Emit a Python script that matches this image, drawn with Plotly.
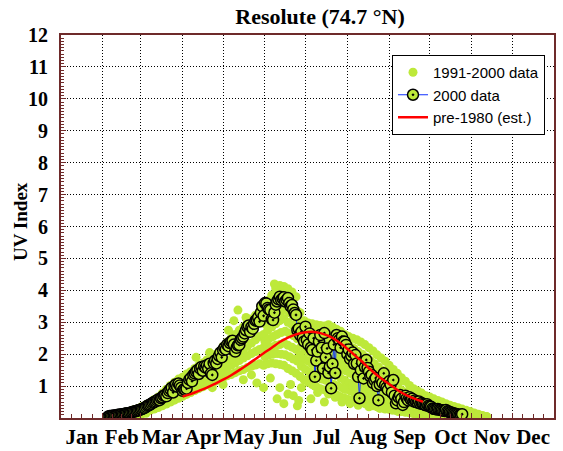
import plotly.graph_objects as go

# ---------------- data ----------------
months = ["Jan", "Feb", "Mar", "Apr", "May", "Jun", "Jul", "Aug", "Sep", "Oct", "Nov", "Dec"]
month_starts = [0, 31, 59, 90, 120, 151, 181, 212, 243, 273, 304, 334, 365]
y_ticks = [1, 2, 3, 4, 5, 6, 7, 8, 9, 10, 11, 12]

# 1991-2000 data (cloud), sampled every 3 days at several levels
g_days = [36, 39, 42, 45, 48, 51, 54, 57, 60, 63,
          66, 69, 72, 75, 78, 81, 84, 87, 90, 93,
          96, 99, 102, 105, 108, 111, 114, 117, 120, 123,
          126, 129, 132, 135, 138, 141, 144, 147, 150, 153,
          156, 159, 162, 165, 168, 171, 174, 177, 180, 183,
          186, 189, 192, 195, 198, 201, 204, 207, 210, 213,
          216, 219, 222, 225, 228, 231, 234, 237, 240, 243,
          246, 249, 252, 255, 258, 261, 264, 267, 270, 273,
          276, 279, 282, 285, 288, 291, 294, 297, 300, 303,
          306, 309, 312, 315]
g_hi = [.09, .10, .14, .15, .19, .21, .26, .30, .36, .42,
        .48, .58, .66, .78, .90, 1.02, 1.12, 1.22, 1.28, 1.38,
        1.45, 1.55, 1.65, 1.72, 1.82, 1.90, 1.98, 2.08, 2.25, 2.38,
        2.50, 2.62, 2.75, 2.85, 3.00, 3.10, 3.22, 3.35, 3.50, 3.68,
        3.85, 4.05, 4.15, 4.12, 4.05, 3.95, 3.80, 3.30, 3.05, 2.98,
        2.95, 2.92, 2.90, 2.88, 2.92, 2.85, 2.78, 2.72, 2.62, 2.55,
        2.50, 2.45, 2.38, 2.30, 2.20, 2.10, 1.98, 1.88, 1.78, 1.65,
        1.52, 1.40, 1.26, 1.15, 1.02, .92, .85, .78, .70, .66,
        .60, .55, .50, .45, .40, .36, .32, .28, .24, .20,
        .16, .12, .08, .05]
g_up = [.07, .08, .11, .12, .15, .17, .21, .24, .29, .34,
        .40, .47, .55, .64, .74, .84, .92, 1.00, 1.05, 1.18,
        1.32, 1.42, 1.52, 1.60, 1.68, 1.76, 1.84, 1.95, 2.08, 2.20,
        2.30, 2.42, 2.52, 2.64, 2.75, 2.85, 2.98, 3.10, 3.22, 3.38,
        3.50, 3.60, 3.68, 3.70, 3.62, 3.52, 3.35, 2.95, 2.80, 2.70,
        2.62, 2.55, 2.50, 2.45, 2.40, 2.42, 2.35, 2.28, 2.20, 2.10,
        2.00, 1.92, 1.82, 1.72, 1.62, 1.52, 1.42, 1.32, 1.22, 1.12,
        1.02, .95, .88, .80, .72, .65, .60, .55, .48, .44,
        .40, .36, .32, .28, .25, .22, .19, .17, .15, .13,
        .10, .08, .06, .04]
g_mid = [.05, .06, .08, .09, .11, .13, .16, .19, .23, .27,
         .32, .37, .44, .51, .58, .66, .74, .82, .88, .96,
         1.05, 1.14, 1.22, 1.30, 1.36, 1.44, 1.50, 1.58, 1.68, 1.76,
         1.85, 1.95, 2.05, 2.15, 2.25, 2.35, 2.45, 2.55, 2.62, 2.75,
         2.85, 2.95, 3.05, 3.12, 3.00, 2.92, 2.80, 2.55, 2.42, 2.30,
         2.25, 2.18, 2.10, 2.05, 1.98, 1.92, 1.88, 1.82, 1.75, 1.65,
         1.58, 1.50, 1.42, 1.35, 1.26, 1.18, 1.10, 1.02, .95, .88,
         .80, .73, .66, .60, .54, .48, .43, .38, .34, .30,
         .27, .24, .21, .19, .17, .15, .13, .12, .10, .09,
         .08, .06, .05, .03]
g_low = [.04, .05, .06, .07, .08, .10, .12, .14, .17, .20,
         .30, .34, .40, .46, .53, .60, .68, .74, .80, .88,
         .95, 1.02, 1.10, 1.16, 1.22, 1.30, 1.36, 1.42, 1.50, 1.58,
         1.65, 1.72, 1.80, 1.88, 1.95, 2.02, 2.08, 2.15, 2.20, 2.25,
         2.22, 2.28, 2.30, 2.35, 2.28, 2.22, 2.15, 1.98, 1.85, 1.78,
         1.70, 1.62, 1.55, 1.48, 1.42, 1.38, 1.32, 1.25, 1.18, 1.10,
         1.05, .98, .92, .86, .80, .74, .68, .62, .56, .50,
         .45, .42, .38, .34, .30, .27, .24, .21, .19, .17,
         .15, .14, .12, .11, .10, .09, .08, .07, .06, .05,
         .05, .04, .03, .02]
g_min = [.03, .04, .05, .05, .06, .07, .09, .11, .13, .15,
         .24, .28, .33, .38, .44, .50, .56, .62, .68, .74,
         .80, .86, .92, .98, 1.04, 1.10, 1.15, 1.20, 1.26, 1.32,
         1.36, 1.42, 1.48, 1.52, 1.58, 1.62, 1.66, 1.70, 1.65, 1.70,
         1.72, 1.70, 1.68, 1.65, 1.55, 1.48, 1.40, 1.30, 1.20, 1.12,
         1.05, .98, .92, .88, .82, .78, .72, .66, .62, .58,
         .55, .52, .48, .45, .42, .38, .35, .32, .30, .27,
         .25, .22, .20, .18, .16, .14, .12, .11, .10, .09,
         .08, .07, .06, .06, .05, .05, .04, .04, .03, .03,
         .03, .02, .02, .02]

# extra summer fill of the 1991-2000 cloud
s_days = [151, 154, 157, 160, 163, 166, 169, 172, 175, 178,
          181, 184, 187, 190, 193, 196, 199, 202, 205, 208,
          211, 214, 217, 220, 223, 226, 229, 232, 235, 238,
          241, 244, 247, 250]
s0 = [3.45, 3.55, 3.70, 3.85, 3.90, 3.85, 3.75, 3.55, 3.35, 3.05,
      2.82, 2.75, 2.72, 2.68, 2.65, 2.62, 2.60, 2.55, 2.48, 2.42,
      2.35, 2.25, 2.18, 2.08, 2.00, 1.90, 1.80, 1.70, 1.60, 1.50,
      1.40, 1.30, 1.20, 1.10]
s1 = [2.95, 3.05, 3.15, 3.30, 3.35, 3.40, 3.30, 3.20, 3.05, 2.75,
      2.62, 2.50, 2.45, 2.38, 2.30, 2.28, 2.18, 2.15, 2.10, 2.05,
      1.98, 1.90, 1.80, 1.72, 1.62, 1.55, 1.45, 1.36, 1.25, 1.18,
      1.08, 1.00, .92, .85]
s2 = [2.40, 2.48, 2.55, 2.62, 2.68, 2.72, 2.65, 2.58, 2.48, 2.25,
      2.12, 2.05, 1.98, 1.92, 1.82, 1.78, 1.70, 1.65, 1.60, 1.52,
      1.48, 1.40, 1.32, 1.25, 1.18, 1.10, 1.02, .95, .88, .82,
      .75, .70, .64, .58]
s3 = [1.92, 1.98, 2.00, 2.02, 2.00, 1.98, 1.92, 1.85, 1.78, 1.62,
      1.52, 1.45, 1.38, 1.30, 1.22, 1.18, 1.10, 1.05, 1.00, .95,
      .90, .85, .80, .75, .70, .66, .60, .55, .50, .46,
      .42, .38, .35, .32]

# scattered 1991-2000 points
o_days = [100, 112, 120, 128, 131, 135, 141, 145, 150, 155,
          158, 160, 162, 165, 168, 170, 172, 175, 176, 178,
          182, 185, 188, 190, 192, 195, 198, 200, 203, 205,
          208, 210, 214, 218, 220, 225, 228, 232, 236, 240,
          245, 250, 110, 124, 137]
o_vals = [1.90, 0.95, 1.05, 3.05, 3.38, 1.20, 1.35, 1.10, 0.95, 1.25,
          4.20, 0.60, 0.95, 0.45, 0.75, 1.05, 0.70, 0.38, 0.55, 0.95,
          1.20, 0.60, 1.00, 0.80, 1.45, 0.50, 0.75, 1.00, 0.65, 0.70,
          0.50, 0.90, 0.45, 0.80, 0.40, 0.60, 0.35, 0.45, 0.30, 0.28,
          0.25, 0.20, 2.05, 2.75, 3.15]

# 2000 data (daily, day 35 .. 297)
d2000_start = 35
d2000 = [0.05, 0.06, 0.06, 0.07, 0.08, 0.08, 0.09, 0.10, 0.10, 0.11,
         0.12, 0.12, 0.13, 0.14, 0.15, 0.15, 0.16, 0.18, 0.19, 0.20,
         0.21, 0.22, 0.24, 0.25, 0.27, 0.28, 0.30, 0.32, 0.35, 0.38,
         0.40, 0.42, 0.45, 0.48, 0.50, 0.52, 0.55, 0.58, 0.56, 0.62,
         0.65, 0.70, 0.72, 0.68, 0.78, 0.85, 0.90, 0.95, 0.80, 1.00,
         1.05, 0.98, 1.08, 1.02, 0.95, 0.85, 0.90, 0.88, 0.92, 1.10,
         1.20, 1.25, 1.15, 1.35, 1.40, 1.45, 1.50, 1.38, 1.55, 1.60,
         1.48, 1.62, 1.58, 1.65, 1.55, 1.70, 1.40, 1.35, 1.72, 1.80,
         1.71, 1.85, 1.95, 2.05, 1.90, 2.13, 2.20, 2.15, 2.30, 2.25,
         2.35, 2.40, 2.42, 2.30, 2.08, 2.20, 2.28, 2.29, 2.45, 2.50,
         2.55, 2.65, 2.75, 2.86, 2.90, 2.70, 2.85, 2.80, 2.95, 3.05,
         3.07, 3.15, 3.02, 3.30, 3.50, 3.20, 3.60, 3.59, 3.45, 3.40,
         3.38, 3.10, 3.07, 3.30, 3.55, 3.65, 3.72, 3.80, 3.70, 3.75,
         3.78, 3.65, 3.70, 3.76, 3.60, 3.50, 3.54, 3.40, 3.29, 3.23,
         2.75, 2.80, 2.60, 2.70, 2.50, 2.40, 2.86, 2.44, 2.30, 2.65,
         2.20, 2.13, 2.50, 1.29, 1.80, 2.08, 2.40, 2.60, 2.20, 1.55,
         2.66, 1.90, 2.18, 1.41, 1.61, 0.93, 1.70, 2.30, 1.41, 2.60,
         2.50, 2.45, 2.20, 2.55, 2.40, 2.39, 2.29, 2.00, 2.15, 1.85,
         1.95, 2.05, 1.70, 1.97, 1.71, 1.29, 0.62, 1.50, 1.75, 1.24,
         1.60, 1.82, 1.57, 1.45, 1.30, 1.35, 1.10, 1.19, 1.25, 1.00,
         0.56, 1.05, 1.20, 1.10, 1.40, 1.03, 0.95, 0.88, 1.15, 1.05,
         0.80, 1.19, 0.70, 0.46, 0.55, 0.65, 0.72, 0.60, 0.41, 0.50,
         0.70, 0.62, 0.55, 0.65, 0.58, 0.60, 0.52, 0.55, 0.50, 0.48,
         0.52, 0.45, 0.47, 0.44, 0.42, 0.40, 0.43, 0.38, 0.36, 0.35,
         0.30, 0.29, 0.28, 0.27, 0.28, 0.26, 0.25, 0.24, 0.23, 0.22,
         0.25, 0.21, 0.20, 0.18, 0.17, 0.15, 0.14, 0.13, 0.12, 0.11,
         0.09, 0.10, 0.12]

# pre-1980 estimate
red_days = [90, 96, 102, 108, 114, 120, 126, 132, 138, 144, 150, 156, 162, 168, 174,
            180, 186, 192, 198, 204, 210, 216, 222, 228, 234, 240, 246, 252, 258, 264, 268]
red_vals = [0.67, 0.75, 0.85, 0.95, 1.07, 1.20, 1.34, 1.50, 1.67, 1.85, 2.03, 2.20, 2.38, 2.52, 2.62,
            2.68, 2.70, 2.66, 2.57, 2.43, 2.24, 2.02, 1.80, 1.56, 1.34, 1.15, 0.97, 0.80, 0.67, 0.57, 0.51]

# ---------------- figure ----------------
GREEN = "#bde93a"
BORDER = "#6e2a2a"
SERIF = "Liberation Serif"

gx, gy = [], []
for arr in (g_min, g_low, g_mid, g_up, g_hi):
    gx += g_days
    gy += arr
for arr in (s3, s2, s1, s0):
    gx += s_days
    gy += arr
gx += o_days
gy += o_vals

x2000 = [d2000_start + i for i in range(len(d2000))]

fig = go.Figure()
fig.add_trace(go.Scatter(x=gx, y=gy, mode="markers", name="1991-2000 data",
                         marker=dict(color=GREEN, size=9, line=dict(width=0))))
fig.add_trace(go.Scatter(x=x2000, y=d2000, mode="lines+markers", name="2000 data",
                         line=dict(color="#1030ff", width=1),
                         marker=dict(symbol="circle-dot", size=11, color=GREEN,
                                     line=dict(color="black", width=1.5))))
fig.add_trace(go.Scatter(x=red_days, y=red_vals, mode="lines", name="pre-1980 (est.)",
                         line=dict(color="#ff0000", width=2.5, shape="spline")))
# carrier for the month-label axis
fig.add_trace(go.Scatter(x=[], y=[], xaxis="x2", showlegend=False, hoverinfo="skip"))

mids = [(a + b) / 2 for a, b in zip(month_starts[:-1], month_starts[1:])]
quarters = []
for a, b in zip(month_starts[:-1], month_starts[1:]):
    for k in range(4):
        quarters.append(a + k * (b - a) / 4)

fig.update_layout(
    width=563, height=451,
    margin=dict(l=61, r=9, t=35, b=33),
    paper_bgcolor="white", plot_bgcolor="white",
    title=dict(text="<b>Resolute (74.7 °N)</b>", x=320 / 563, xref="container", xanchor="center",
               y=1 - 16 / 451, yref="container", yanchor="middle",
               font=dict(family=SERIF, size=22, color="black")),
    xaxis=dict(range=[0, 365], tickmode="array", tickvals=month_starts, showticklabels=False,
               ticks="inside", ticklen=5, tickcolor=BORDER, automargin=False,
               showgrid=True, gridcolor="black", griddash="1px,2px", gridwidth=1,
               zeroline=False, showline=True, linecolor=BORDER, linewidth=2, mirror=True,
               minor=dict(tickmode="array", tickvals=quarters, ticks="inside", ticklen=4,
                          tickcolor=BORDER, showgrid=False)),
    xaxis2=dict(overlaying="x", side="bottom", anchor="y", range=[0, 365], tickmode="array",
                tickvals=mids, ticktext=["<b>%s</b>" % m for m in months], ticks="",
                showgrid=False, zeroline=False, automargin=False,
                showline=False, ticklabelstandoff=4,
                tickfont=dict(family=SERIF, size=21, color="black")),
    yaxis=dict(range=[0, 12], tickmode="array", tickvals=y_ticks,
               ticktext=["<b>%d</b>" % v for v in y_ticks], ticks="inside", ticklen=5,
               tickcolor=BORDER, showgrid=True, gridcolor="black", griddash="1px,2px", gridwidth=1,
               zeroline=False, showline=True, linecolor=BORDER, linewidth=2, mirror=True,
               ticklabelstandoff=7, automargin=False,
               tickfont=dict(family=SERIF, size=20, color="black"),
               minor=dict(dtick=0.1, ticks="inside", ticklen=3, tickcolor=BORDER, showgrid=False)),
    annotations=[dict(text="<b>UV Index</b>", xref="paper", yref="paper",
                      x=(20 - 61) / 493, y=(418 - 222) / 383, xanchor="center", yanchor="middle",
                      textangle=-90, showarrow=False,
                      font=dict(family=SERIF, size=19, color="black"))],
    legend=dict(x=(545 - 61) / 493, xanchor="right", y=(418 - 55) / 383, yanchor="top",
                bgcolor="white", bordercolor="black", borderwidth=1, itemwidth=30,
                font=dict(family="Liberation Sans", size=15, color="black")),
    showlegend=True,
)

fig.write_html("out.html")
